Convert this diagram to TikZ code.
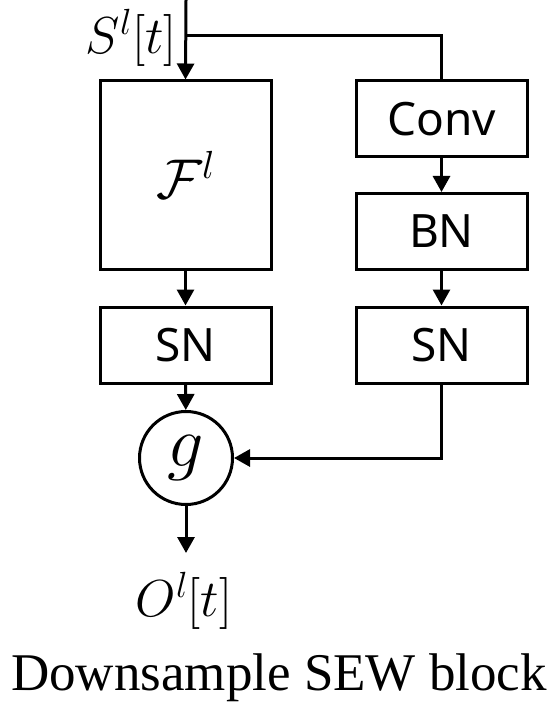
\RequirePackage{fix-cm}
\documentclass[tikz,border=0pt]{standalone}
\usepackage{fontspec}
\newfontfamily\blockfont{Noto Sans}
\newfontfamily\capfont{Liberation Serif}
\usetikzlibrary{arrows.meta}

\begin{document}
\begin{tikzpicture}[x=1pt,y=-1pt,line width=3pt,
  block/.style={draw,rectangle,minimum width=171pt,minimum height=76pt,inner sep=0pt,
    font=\blockfont\fontsize{46}{56}\selectfont},
  arr/.style={-{Triangle[length=16pt,width=17pt]}},
  mathlbl/.style={inner sep=0pt,font=\fontsize{52}{60}\selectfont}]
  \useasboundingbox (0,0) rectangle (556,703);
  \coordinate(top) at (186,0);
  \coordinate(split) at (186,36);
  \coordinate(rtop) at (441.5,36);
  \coordinate(out) at (186,553);
  % main path
  \node[block,minimum height=188pt,font=\fontsize{56}{64}\selectfont](F) at (185.5,175){$\mathcal{F}^l$};
  \node[block](snl) at (185.5,345){SN};
  \node[draw,circle,minimum size=93pt,inner sep=0pt,font=\fontsize{72}{80}\selectfont](g) at (186,458){$g$};
  % shortcut path
  \node[block](conv) at (441.5,119){Conv};
  \node[block](bn) at (441.5,231.5){BN};
  \node[block](snr) at (441.5,345){SN};
  \draw[arr](top)--(F.north);
  \draw(split)--(rtop)--(conv.north);
  \draw[arr](F)--(snl);
  \draw[arr](snl)--(g);
  \draw[arr](conv)--(bn);
  \draw[arr](bn)--(snr);
  \draw[arr](snr.south)|-(g.east);
  \draw[arr](g)--(out);
  \node[mathlbl,anchor=east](S) at (178,38){$S^l[t]$};
  \node[mathlbl](O) at (184,601){$O^l[t]$};
  \node[inner sep=0pt,anchor=base,font=\capfont\fontsize{53}{60}\selectfont](cap) at (279,690){Downsample SEW block};
\end{tikzpicture}
\end{document}
